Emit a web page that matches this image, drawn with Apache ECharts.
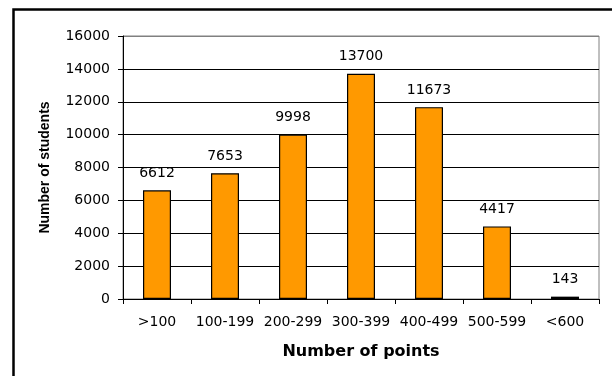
<!DOCTYPE html>
<html><head><meta charset="utf-8">
<script src="https://cdn.jsdelivr.net/npm/echarts@6/dist/echarts.min.js"></script>
<style>html,body{margin:0;padding:0;background:#fff}#c{width:612px;height:376px}</style>
</head><body><div id="c"></div>
<script>
const categories = ['>100','100-199','200-299','300-399','400-499','500-599','<600'];
const students = [6612, 7653, 9998, 13700, 11673, 4417, 143];
const yTicks = {min: 0, max: 16000, interval: 2000};
const xTitle = 'Number of points';
const yTitle = 'Number of students';

const font = 'DejaVu Sans, sans-serif';
const fontB = 'Liberation Sans, Arial, sans-serif';
const chart = echarts.init(document.getElementById('c'), null, {renderer: 'canvas'});
chart.setOption({
  animation: false,
  backgroundColor: '#fff',
  grid: {left: 123, right: 13, top: 36, bottom: 77, show: true, borderColor: '#808080', borderWidth: 1, backgroundColor: 'transparent'},
  graphic: [{
    type: 'rect', z: 100, silent: true,
    shape: {x: 13.5, y: 9.5, width: 800, height: 600},
    style: {fill: 'none', stroke: '#000', lineWidth: 2.5}
  }],
  xAxis: {
    type: 'category', data: categories,
    name: xTitle, nameLocation: 'middle', nameGap: 53,
    nameTextStyle: {fontFamily: font, fontSize: 16, fontWeight: 'bold', color: '#000', verticalAlign: 'middle'},
    axisLine: {show: true, lineStyle: {color: '#000', width: 1}},
    axisTick: {show: true, alignWithLabel: false, length: 5, lineStyle: {color: '#000'}},
    axisLabel: {fontFamily: font, fontSize: 14, color: '#000', margin: 16, interval: 0},
    splitLine: {show: false}
  },
  yAxis: {
    type: 'value', min: yTicks.min, max: yTicks.max, interval: yTicks.interval,
    name: yTitle, nameLocation: 'middle', nameGap: 78, nameRotate: 90,
    nameTextStyle: {fontFamily: fontB, fontSize: 14, fontWeight: 'bold', color: '#000', verticalAlign: 'middle'},
    axisLine: {show: true, lineStyle: {color: '#000', width: 1}},
    axisTick: {show: true, length: 5, lineStyle: {color: '#000'}},
    axisLabel: {fontFamily: font, fontSize: 14, color: '#000', margin: 13, formatter: v => String(v)},
    splitLine: {show: true, lineStyle: {color: ['#000','#000','#000','#000','#000','#000','#000','#000','#808080'], width: 1}}
  },
  series: [{
    type: 'bar', data: students, barWidth: 28,
    itemStyle: {color: '#FF9900', borderColor: '#000', borderWidth: 1.2},
    label: {show: true, position: 'top', distance: 10, fontFamily: font, fontSize: 14, color: '#000'}
  }]
});
</script></body></html>
